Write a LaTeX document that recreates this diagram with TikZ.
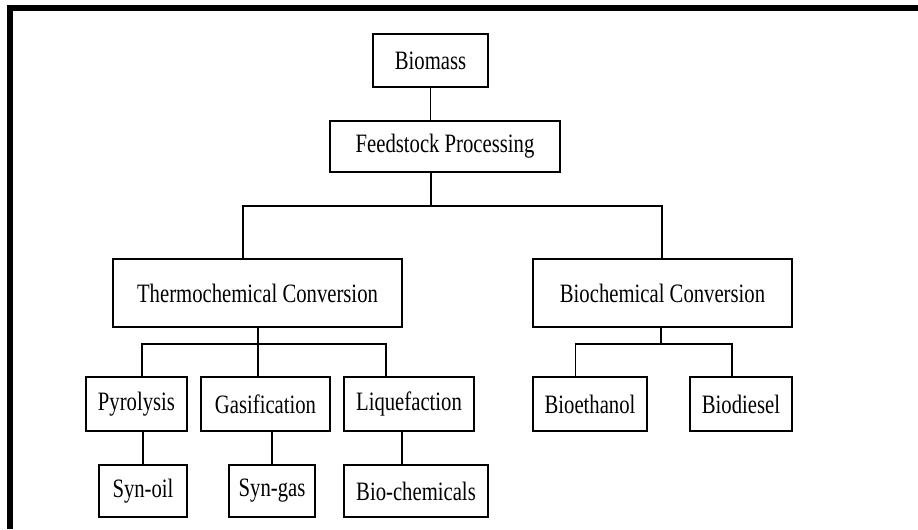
\documentclass[tikz,border=0pt]{standalone}
\usepackage{fontspec}
\setmainfont[FakeStretch=0.78]{Liberation Serif}
\usepackage{xcolor}
\usepackage{tikz}
\usetikzlibrary{positioning, calc}

\begin{document}
\begin{tikzpicture}[every node/.style={rectangle, draw, line width=0.9pt, inner sep=0pt, align=center, font=\fontsize{15.1}{18}\selectfont}, link/.style={line width=0.8pt}]
        \useasboundingbox (0,0) rectangle (18.36,-10.58);
        \draw[line width=0.12cm] (0.2,-10.58) -- (0.2,-0.16) -- (18.36,-0.16);

        \node[minimum width=2.3cm, minimum height=1.06cm] (biomass) at (8.61, -1.21) {Biomass};
        \node[minimum width=4.6cm, minimum height=1.02cm] (feed) at (8.9, -2.93) {Feedstock Processing};

        % Conversion routes
        \node[minimum width=5.78cm, minimum height=1.36cm] (thermo) at (5.15, -5.86) {Thermochemical Conversion};
        \node[minimum width=5.18cm, minimum height=1.36cm] (biochem) at (13.25, -5.86) {Biochemical Conversion};

        % Processes
        \node[minimum width=2.02cm, minimum height=1.08cm] (pyro) at (2.73, -8.08) {Pyrolysis};
        \node[minimum width=2.58cm, minimum height=1.08cm] (gasif) at (5.31, -8.08) {Gasification};
        \node[minimum width=2.6cm, minimum height=1.08cm] (liquef) at (8.18, -8.08) {Liquefaction};
        \node[minimum width=2.28cm, minimum height=1.08cm] (ethanol) at (11.8, -8.08) {Bioethanol};
        \node[minimum width=2.04cm, minimum height=1.08cm] (diesel) at (14.82, -8.08) {Biodiesel};

        % Products
        \node[minimum width=1.75cm, minimum height=1.04cm] (synoil) at (2.86, -9.82) {Syn-oil};
        \node[minimum width=1.71cm, minimum height=1.04cm] (syngas) at (5.44, -9.82) {Syn-gas};
        \node[minimum width=2.88cm, minimum height=1.04cm] (chem) at (8.32, -9.82) {Bio-chemicals};

        \coordinate (split) at (8.62, -4.12); \coordinate (tt) at (4.86, -4.12); \coordinate (bt) at (13.24, -4.12);
        \coordinate (ts) at (5.16, -6.88); \coordinate (pj) at (2.84, -6.88); \coordinate (lj) at (7.72, -6.88);
        \coordinate (bs) at (13.22, -6.88); \coordinate (ej) at (11.51, -6.88); \coordinate (dj) at (14.64, -6.88);
        \coordinate (lq) at (8.04, -9);

        \draw[link] (biomass) -- (biomass |- feed.north);
        \draw[link] (split |- feed.south) -- (split);
        \draw[link] (tt |- thermo.north) -- (tt) -- (bt) -- (bt |- biochem.north);
        \draw[link] (ts |- thermo.south) -- (ts); \draw[link] (ts) -- (ts |- gasif.north);
        \draw[link] (pj |- pyro.north) -- (pj) -- (lj) -- (lj |- liquef.north);
        \draw[link] (bs |- biochem.south) -- (bs);
        \draw[link] (ej |- ethanol.north) -- (ej) -- (dj) -- (dj |- diesel.north);
        \draw[link] (synoil |- pyro.south) -- (synoil.north); \draw[link] (syngas |- gasif.south) -- (syngas.north); \draw[link] (lq |- liquef.south) -- (lq |- chem.north);
    \end{tikzpicture}
\end{document}
